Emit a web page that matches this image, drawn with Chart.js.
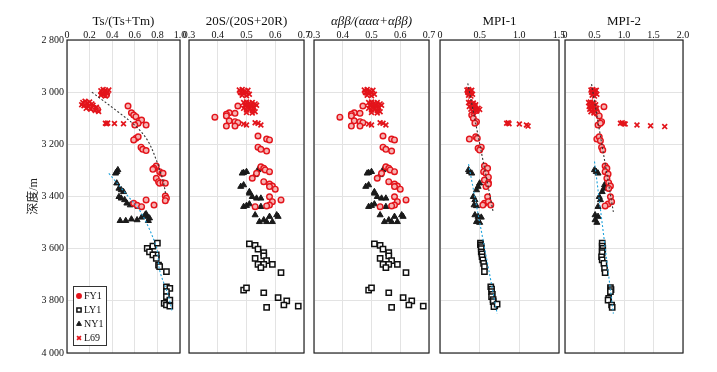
<!DOCTYPE html>
<html><head><meta charset="utf-8">
<script src="https://cdn.jsdelivr.net/npm/chart.js@4.4.1/dist/chart.umd.min.js"></script>
<style>
html,body{margin:0;padding:0;background:#fff;}
#wrap{position:relative;width:717px;height:372px;overflow:hidden;background:#fff;}
#wrap canvas{position:absolute;top:0;}
</style></head><body><div id="wrap"></div>
<script>
// ---------- data ----------
const seriesNames = ['FY1', 'LY1', 'NY1', 'L69'];
const depthTicks = [2800, 3000, 3200, 3400, 3600, 3800, 4000];
const depthTickLabels = ['2 800', '3 000', '3 200', '3 400', '3 600', '3 800', '4 000'];
const depthTitle = '深度/m';
const panelTitles = ['Ts/(Ts+Tm)', '20S/(20S+20R)', 'αββ/(ααα+αββ)', 'MPI-1', 'MPI-2'];
const tsTicks = [0, 0.2, 0.4, 0.6, 0.8, 1.0];
const tsTickLabels = ['0', '0.2', '0.4', '0.6', '0.8', '1.0'];
const steranTicks = [0.3, 0.4, 0.5, 0.6, 0.7];
const steranTickLabels = ['0.3', '0.4', '0.5', '0.6', '0.7'];
const mpi1Ticks = [0, 0.5, 1.0, 1.5];
const mpi1TickLabels = ['0', '0.5', '1.0', '1.5'];
const mpi2Ticks = [0, 0.5, 1.0, 1.5, 2.0];
const mpi2TickLabels = ['0', '0.5', '1.0', '1.5', '2.0'];

// points are [value, depth(m)]
// --- Ts/(Ts+Tm)
const FY1_ts = [[0.32,3000],[0.35,3010],[0.16,3045],[0.20,3058],[0.24,3062],[0.27,3066],
 [0.54,3053],[0.57,3079],[0.59,3088],[0.61,3094],[0.64,3110],[0.66,3107],[0.70,3126],[0.63,3119],[0.60,3126],
 [0.61,3177],[0.63,3171],[0.59,3183],[0.655,3211],[0.67,3219],[0.70,3224],[0.79,3283],[0.77,3292],[0.76,3296],
 [0.82,3305],[0.84,3311],[0.85,3311],[0.79,3330],[0.81,3343],[0.82,3349],[0.85,3347],[0.87,3349],[0.87,3398],
 [0.88,3407],[0.87,3416],[0.59,3426],[0.62,3434],[0.70,3413],[0.77,3433],[0.66,3439]];
const LY1_ts = [[0.71,3599],[0.73,3612],[0.76,3590],[0.80,3579],[0.79,3624],[0.76,3624],[0.79,3637],[0.81,3663],
 [0.82,3669],[0.88,3688],[0.88,3746],[0.91,3752],[0.88,3765],[0.88,3784],[0.91,3797],[0.86,3810],[0.88,3816],[0.91,3820]];
const NY1_ts = [[0.44,3305],[0.45,3298],[0.43,3311],[0.44,3349],[0.46,3369],[0.48,3375],[0.50,3382],[0.46,3401],
 [0.48,3407],[0.51,3413],[0.53,3426],[0.56,3433],[0.63,3439],[0.69,3471],[0.71,3477],[0.73,3483],[0.47,3493],
 [0.52,3493],[0.57,3487],[0.62,3490],[0.66,3480],[0.72,3493],[0.70,3467]];
const L69_ts = [[0.30,2995],[0.32,2990],[0.34,2993],[0.36,2998],[0.31,3005],[0.33,3008],[0.35,3003],[0.30,3012],[0.34,3015],[0.37,2992],
 [0.14,3040],[0.16,3035],[0.18,3042],[0.20,3038],[0.22,3045],[0.15,3052],[0.19,3055],[0.23,3050],[0.26,3058],
 [0.17,3062],[0.21,3065],[0.25,3070],[0.28,3074],[0.13,3048],
 [0.34,3119],[0.35,3121],[0.36,3118],[0.42,3120],[0.50,3121]];
const trendA_ts = [[0.22,3000],[0.45,3075],[0.62,3135],[0.72,3190],[0.79,3260],[0.85,3340],[0.875,3395]];
const trendB_ts = [[0.37,3311],[0.53,3394],[0.65,3458],[0.79,3593],[0.82,3683],[0.90,3784],[0.93,3842]];

// --- 20S/(20S+20R)
const FY1_s20 = [[0.48,3000],[0.50,3045],[0.52,3062],
 [0.47,3053],[0.46,3081],[0.44,3079],[0.43,3085],[0.43,3091],[0.39,3096],[0.44,3110],[0.46,3113],[0.47,3117],
 [0.43,3130],[0.46,3130],[0.54,3168],[0.57,3180],[0.58,3183],[0.54,3211],[0.55,3219],[0.57,3226],[0.55,3286],
 [0.56,3292],[0.565,3298],[0.58,3305],[0.535,3311],[0.52,3330],[0.56,3343],[0.58,3352],[0.59,3360],[0.60,3372],
 [0.58,3362],[0.58,3401],[0.59,3420],[0.62,3413],[0.58,3433],[0.57,3436],[0.53,3439]];
const LY1_s20 = [[0.51,3582],[0.53,3587],[0.54,3602],[0.56,3615],[0.56,3628],[0.53,3637],[0.57,3646],[0.54,3660],
 [0.56,3660],[0.55,3673],[0.59,3660],[0.62,3692],[0.49,3759],[0.50,3750],[0.56,3769],[0.61,3788],[0.57,3825],
 [0.64,3800],[0.63,3816],[0.68,3820]];
const NY1_s20 = [[0.49,3309],[0.50,3305],[0.485,3311],[0.54,3298],[0.53,3317],[0.48,3362],[0.49,3356],[0.51,3382],
 [0.51,3388],[0.52,3401],[0.535,3407],[0.55,3407],[0.49,3439],[0.50,3435],[0.51,3429],[0.55,3439],[0.53,3471],
 [0.545,3497],[0.56,3490],[0.57,3497],[0.58,3477],[0.59,3497],[0.605,3471],[0.61,3477]];
const L69_s20 = [[0.475,2992],[0.485,2990],[0.495,2995],[0.505,2993],[0.48,3000],[0.49,3005],[0.50,3002],[0.51,3008],[0.485,3012],[0.50,3014],
 [0.49,3040],[0.50,3038],[0.51,3042],[0.52,3040],[0.53,3045],[0.495,3050],[0.505,3055],[0.515,3052],[0.525,3058],
 [0.535,3050],[0.49,3062],[0.50,3068],[0.51,3065],[0.52,3070],[0.53,3075],[0.50,3078],[0.52,3080],
 [0.49,3122],[0.50,3126],[0.53,3117],[0.54,3119],[0.55,3126]];

// --- αββ/(ααα+αββ) (reads identical to the 20S panel in the figure)
const FY1_abb = FY1_s20.slice();
const LY1_abb = LY1_s20.slice();
const NY1_abb = NY1_s20.slice();
const L69_abb = L69_s20.slice();

// --- MPI-1
const FY1_m1 = [[0.36,3000],[0.42,3050],[0.46,3070],
 [0.40,3088],[0.42,3100],[0.46,3113],[0.44,3119],[0.37,3180],[0.45,3171],[0.47,3177],[0.48,3215],[0.52,3211],
 [0.50,3222],[0.56,3283],[0.60,3292],[0.55,3305],[0.58,3311],[0.61,3326],[0.56,3337],[0.61,3347],[0.58,3362],
 [0.61,3352],[0.60,3401],[0.56,3426],[0.54,3433],[0.61,3420],[0.64,3433]];
const LY1_m1 = [[0.51,3579],[0.51,3585],[0.52,3592],[0.52,3600],[0.52,3612],[0.53,3620],[0.53,3631],[0.54,3643],
 [0.55,3656],[0.56,3669],[0.56,3688],[0.64,3746],[0.65,3755],[0.65,3765],[0.66,3775],[0.65,3784],[0.67,3795],
 [0.67,3803],[0.69,3818],[0.68,3822],[0.72,3813]];
const NY1_m1 = [[0.36,3298],[0.40,3311],[0.37,3305],[0.50,3349],[0.48,3362],[0.46,3375],[0.42,3401],[0.44,3413],
 [0.43,3433],[0.46,3436],[0.44,3471],[0.48,3477],[0.52,3480],[0.46,3497],[0.50,3500]];
const L69_m1 = [[0.34,2992],[0.36,2990],[0.38,2995],[0.40,2993],[0.35,3000],[0.37,3005],[0.39,3002],[0.41,3008],[0.36,3012],[0.39,3015],
 [0.36,3040],[0.38,3038],[0.40,3045],[0.42,3042],[0.45,3048],[0.37,3055],[0.41,3058],[0.44,3055],[0.48,3062],
 [0.39,3065],[0.43,3068],[0.46,3072],[0.50,3066],[0.42,3078],
 [0.84,3119],[0.86,3117],[0.87,3121],[1.00,3122],[1.09,3126],[1.11,3130]];
const trendA_m1 = [[0.35,2966],[0.67,3459]];
const trendB_m1 = [[0.36,3276],[0.72,3849]];

// --- MPI-2
const FY1_m2 = [[0.48,3000],[0.45,3050],[0.52,3070],
 [0.66,3056],[0.54,3081],[0.58,3091],[0.62,3113],[0.56,3126],[0.60,3119],[0.54,3180],[0.58,3171],[0.60,3186],
 [0.62,3211],[0.64,3222],[0.68,3283],[0.71,3292],[0.68,3305],[0.73,3314],[0.71,3330],[0.74,3347],[0.77,3360],
 [0.74,3369],[0.77,3401],[0.73,3429],[0.68,3436],[0.79,3420]];
const LY1_m2 = [[0.63,3579],[0.63,3590],[0.64,3599],[0.63,3608],[0.63,3615],[0.62,3631],[0.63,3643],[0.66,3656],
 [0.67,3676],[0.68,3692],[0.77,3749],[0.78,3757],[0.77,3765],[0.74,3791],[0.73,3797],[0.79,3816],[0.80,3825]];
const NY1_m2 = [[0.50,3298],[0.56,3311],[0.53,3305],[0.67,3356],[0.66,3369],[0.63,3382],[0.58,3401],[0.60,3413],
 [0.56,3439],[0.51,3471],[0.56,3477],[0.51,3490],[0.54,3500]];
const L69_m2 = [[0.44,2992],[0.47,2990],[0.50,2995],[0.53,2993],[0.45,3000],[0.48,3005],[0.51,3002],[0.54,3008],[0.46,3012],[0.50,3015],
 [0.40,3040],[0.43,3038],[0.46,3045],[0.49,3042],[0.52,3048],[0.41,3055],[0.45,3058],[0.50,3055],[0.54,3062],
 [0.42,3065],[0.47,3068],[0.51,3072],[0.44,3075],[0.49,3080],
 [0.94,3119],[0.97,3117],[1.00,3121],[1.02,3122],[1.22,3126],[1.45,3129],[1.69,3132]];
const trendA_m2 = [[0.45,2969],[0.82,3459]];
const trendB_m2 = [[0.50,3266],[0.82,3849]];

// ---------- layout & style ----------
const FONT = "'Liberation Serif', 'Times New Roman', serif";
const CJK = "'Liberation Serif', 'Noto Sans CJK SC', serif";
const areas = [{l:67,r:180},{l:189,r:304},{l:314,r:429},{l:440,r:559},{l:565,r:683}];
const TOP = 40, BOTTOM = 353, H = 372;
const styles = {
  FY1:{pointStyle:'circle', radius:2.8, border:'#e3141b', fill:'#f6b3b3', bw:1.4},
  LY1:{pointStyle:'rect', radius:3.7, border:'#111', fill:'#fff', bw:1.5},
  NY1:{pointStyle:'triangle', radius:3.5, border:'#1a1a1a', fill:'#1a1a1a', bw:1},
  L69:{pointStyle:'crossRot', radius:3.4, border:'#e3141b', fill:'#e3141b', bw:1.7}
};
const panels = [
  {title:panelTitles[0], italic:false, min:0, max:1, ticks:tsTicks, labels:tsTickLabels,
   series:{FY1:FY1_ts, LY1:LY1_ts, NY1:NY1_ts, L69:L69_ts}, trendA:trendA_ts, trendB:trendB_ts},
  {title:panelTitles[1], italic:false, min:0.3, max:0.7, ticks:steranTicks, labels:steranTickLabels,
   series:{FY1:FY1_s20, LY1:LY1_s20, NY1:NY1_s20, L69:L69_s20}},
  {title:panelTitles[2], italic:true, min:0.3, max:0.7, ticks:steranTicks, labels:steranTickLabels,
   series:{FY1:FY1_abb, LY1:LY1_abb, NY1:NY1_abb, L69:L69_abb}},
  {title:panelTitles[3], italic:false, min:0, max:1.5, ticks:mpi1Ticks, labels:mpi1TickLabels,
   series:{FY1:FY1_m1, LY1:LY1_m1, NY1:NY1_m1, L69:L69_m1}, trendA:trendA_m1, trendB:trendB_m1},
  {title:panelTitles[4], italic:false, min:0, max:2, ticks:mpi2Ticks, labels:mpi2TickLabels,
   series:{FY1:FY1_m2, LY1:LY1_m2, NY1:NY1_m2, L69:L69_m2}, trendA:trendA_m2, trendB:trendB_m2}
];

const toXY = arr => arr.map(p => ({x:p[0], y:p[1]}));
function markerSet(name, arr){
  const s = styles[name];
  return {label:name, data:toXY(arr), showLine:false, pointStyle:s.pointStyle,
    pointRadius:s.radius, pointHoverRadius:s.radius, pointBorderColor:s.border,
    pointBackgroundColor:s.fill, pointBorderWidth:s.bw};
}
function trendSet(arr, color, tension){
  return {label:'', data:toXY(arr), showLine:true, pointRadius:0, borderColor:color,
    borderWidth:1.1, borderDash:[2,2], tension:tension, fill:false};
}

const framePlugin = {id:'frame', afterDraw(chart){
  const {ctx, chartArea:a} = chart;
  ctx.save(); ctx.strokeStyle = '#222'; ctx.lineWidth = 1.2;
  ctx.strokeRect(a.left, a.top, a.right - a.left, a.bottom - a.top);
  ctx.restore();
}};
const legendPlugin = {id:'boxLegend', afterDatasetsDraw(chart){
  const {ctx, chartArea:a} = chart;
  const x0 = a.left + 6, y0 = a.bottom - 67, w = 33, h = 59;
  ctx.save();
  ctx.fillStyle = '#fff'; ctx.fillRect(x0, y0, w, h);
  ctx.strokeStyle = '#333'; ctx.lineWidth = 1; ctx.strokeRect(x0 + 0.5, y0 + 0.5, w, h);
  seriesNames.forEach((n, i) => {
    const s = styles[n], y = y0 + 10 + i * 14;
    ctx.fillStyle = s.fill === '#fff' ? '#fff' : s.border; ctx.strokeStyle = s.border; ctx.lineWidth = s.bw;
    Chart.helpers.drawPoint(ctx, {pointStyle:s.pointStyle, radius:s.radius * 0.8, rotation:0, borderWidth:s.bw}, x0 + 6, y);
    ctx.fillStyle = '#111'; ctx.font = '10px ' + FONT; ctx.textBaseline = 'middle'; ctx.textAlign = 'left';
    ctx.fillText(n, x0 + 11, y + 0.5);
  });
  ctx.restore();
}};

const wrap = document.getElementById('wrap');
panels.forEach((p, idx) => {
  const first = idx === 0, ar = areas[idx];
  const c = document.createElement('canvas');
  const left = first ? 0 : ar.l - 20;
  const width = first ? ar.r + 20 : (ar.r - ar.l) + 40;
  c.width = width; c.height = H; c.style.left = left + 'px';
  c.style.width = width + 'px'; c.style.height = H + 'px';
  wrap.appendChild(c);
  const datasets = [];
  if (p.trendA) datasets.push(trendSet(p.trendA, '#333', first ? 0.35 : 0));
  if (p.trendB) datasets.push(trendSet(p.trendB, '#1fa3dc', first ? 0.35 : 0));
  ['L69', 'FY1', 'NY1', 'LY1'].forEach(n => datasets.push(markerSet(n, p.series[n])));
  new Chart(c, {
    type:'scatter',
    data:{datasets},
    options:{
      responsive:false, animation:false, devicePixelRatio:1, events:[],
      layout:{padding:{left:first ? 0 : 20, right:20, top:0, bottom:H - BOTTOM}},
      plugins:{legend:{display:false}, tooltip:{enabled:false}},
      scales:{
        x:{type:'linear', position:'top', min:p.min, max:p.max,
          afterBuildTicks:a => { a.ticks = p.ticks.map(v => ({value:v})); },
          afterFit:a => { a.height = TOP; },
          grid:{color:'#e3e3e3', lineWidth:1, drawTicks:false},
          border:{display:false},
          ticks:{padding:-1, color:'#111', autoSkip:false, maxRotation:0, font:{family:FONT, size:10},
            callback:(v, i) => p.labels[i]},
          title:{display:true, text:p.title, color:'#111',
            font:{family:FONT, size:13, style:p.italic ? 'italic' : 'normal'}, padding:{top:14, bottom:0}}
        },
        y:{type:'linear', position:'left', reverse:true, min:depthTicks[0], max:depthTicks[depthTicks.length - 1],
          afterBuildTicks:a => { a.ticks = depthTicks.map(v => ({value:v})); },
          afterFit:a => { a.width = first ? ar.l : 0; },
          grid:{color:'#e3e3e3', lineWidth:1, drawTicks:false},
          border:{display:false},
          ticks:{display:first, padding:3, color:'#111', font:{family:FONT, size:10},
            callback:(v, i) => depthTickLabels[i]},
          title:{display:first, text:depthTitle, color:'#222', font:{family:CJK, size:12}, padding:{top:27, bottom:0}}
        }
      }
    },
    plugins:first ? [framePlugin, legendPlugin] : [framePlugin]
  });
});
</script></body></html>
